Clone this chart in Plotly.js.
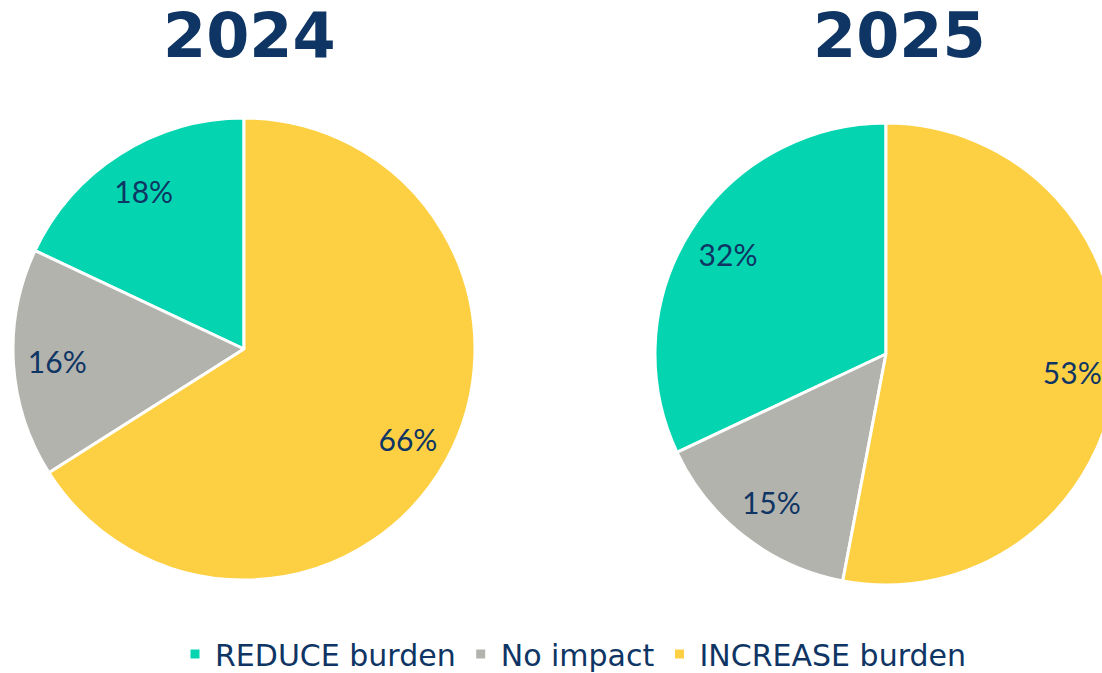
<!DOCTYPE html>
<html><head><meta charset="utf-8">
<script src="https://cdn.plot.ly/plotly-3.0.1.min.js"></script>
<style>html,body{margin:0;padding:0;overflow:hidden;background:#fff}</style>
</head><body><div id="chart"></div>
<script>
const categories = ["REDUCE burden", "No impact", "INCREASE burden"];
const years = ["2024", "2025"];
const values2024 = [18, 16, 66];
const values2025 = [32, 15, 53];
const colors = ["#04d5b0", "#b3b3ae", "#fdd043"];
const navy = "#0e3564";

const W = 1130, H = 673;
const domains = [
  {x: [13/W, 475/W], y: [1-580/H, 1-118/H]},
  {x: [655/W, 1117/W], y: [1-585/H, 1-123/H]}
];
const series = [values2024, values2025];
const traces = [];
series.forEach((vals, i) => {
  const total = vals.reduce((a, b) => a + b, 0);
  // first slice starts at 12 o'clock and runs counterclockwise
  const rot = -360 * vals[0] / total;
  traces.push({
    type: "pie", labels: categories, values: vals, sort: false,
    direction: "counterclockwise", rotation: rot,
    marker: {colors: colors, line: {color: "#ffffff", width: 3}},
    textinfo: "none", hoverinfo: "label+percent",
    domain: domains[i], showlegend: i === 0
  });
  traces.push({
    type: "pie", labels: categories, values: vals, sort: false,
    direction: "counterclockwise", rotation: rot, hole: 0.62,
    marker: {colors: ["rgba(0,0,0,0)","rgba(0,0,0,0)","rgba(0,0,0,0)"], line: {width: 0}},
    texttemplate: "%{value}%", textposition: "inside", insidetextorientation: "horizontal",
    textfont: {family: "Lato, sans-serif", size: 30, color: navy},
    hoverinfo: "skip", domain: domains[i], showlegend: false
  });
});

const layout = {
  width: W, height: H,
  margin: {l: 0, r: 0, t: 0, b: 0, autoexpand: false},
  paper_bgcolor: "#ffffff", plot_bgcolor: "#ffffff",
  showlegend: true,
  legend: {orientation: "h", x: 573/W, xanchor: "center", y: 1-654/H, yanchor: "middle",
           font: {family: "DejaVu Sans, sans-serif", size: 30, color: navy}, traceorder: "normal"},
  annotations: [
    {text: "<b>" + years[0] + "</b>", x: 249/W, y: 1, xref: "paper", yref: "paper",
     showarrow: false, xanchor: "center", yanchor: "top", yshift: 3,
     font: {family: "DejaVu Sans, sans-serif", size: 62, color: navy}},
    {text: "<b>" + years[1] + "</b>", x: 899/W, y: 1, xref: "paper", yref: "paper",
     showarrow: false, xanchor: "center", yanchor: "top", yshift: 3,
     font: {family: "DejaVu Sans, sans-serif", size: 62, color: navy}}
  ]
};
Plotly.newPlot("chart", traces, layout, {displayModeBar: false, responsive: false});
</script></body></html>
